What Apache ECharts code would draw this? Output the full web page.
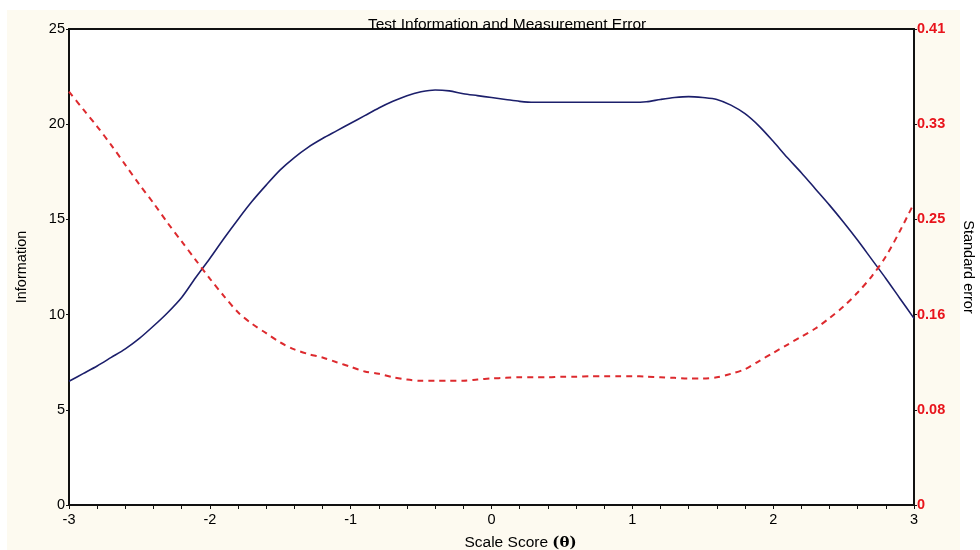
<!DOCTYPE html>
<html>
<head>
<meta charset="utf-8">
<script src="https://cdn.jsdelivr.net/npm/echarts@6/dist/echarts.min.js"></script>
<style>
  html, body { margin: 0; padding: 0; background: #fff; }
  .paper { position: absolute; left: 7px; top: 10px; width: 953px; height: 540px; background: #fdfaf0; }
  #chart { position: absolute; left: 0; top: 0; width: 980px; height: 550px; }
</style>
</head>
<body>
<div class="paper"></div>
<div id="chart"></div>
<script>
// scale score (theta), one point every 0.1
const theta = [-3.0, -2.9, -2.8, -2.7, -2.6, -2.5, -2.4, -2.3, -2.2, -2.1,
  -2.0, -1.9, -1.8, -1.7, -1.6, -1.5, -1.4, -1.3, -1.2, -1.1,
  -1.0, -0.9, -0.8, -0.7, -0.6, -0.5, -0.4, -0.3, -0.2, -0.1,
  0.0, 0.1, 0.2, 0.3, 0.4, 0.5, 0.6, 0.7, 0.8, 0.9,
  1.0, 1.1, 1.2, 1.3, 1.4, 1.5, 1.6, 1.7, 1.8, 1.9,
  2.0, 2.1, 2.2, 2.3, 2.4, 2.5, 2.6, 2.7, 2.8, 2.9, 3.0];
// test information
const information = [6.5, 6.9, 7.3, 7.75, 8.2, 8.75, 9.4, 10.1, 10.9, 11.95,
  12.95, 14.0, 15.0, 15.95, 16.8, 17.6, 18.25, 18.8, 19.25, 19.65,
  20.05, 20.45, 20.85, 21.2, 21.5, 21.7, 21.8, 21.75, 21.6, 21.5,
  21.4, 21.3, 21.2, 21.15, 21.15, 21.15, 21.15, 21.15, 21.15, 21.15,
  21.15, 21.18, 21.3, 21.4, 21.45, 21.4, 21.3, 21.0, 20.55, 19.9,
  19.1, 18.25, 17.45, 16.6, 15.75, 14.85, 13.9, 12.9, 11.9, 10.85, 9.8];
// standard error
const stdError = [0.356, 0.341, 0.326, 0.310, 0.293, 0.276, 0.260, 0.243, 0.227, 0.211,
  0.195, 0.180, 0.166, 0.156, 0.148, 0.140, 0.134, 0.130, 0.127, 0.123,
  0.119, 0.115, 0.113, 0.110, 0.108, 0.107, 0.107, 0.107, 0.107, 0.108,
  0.109, 0.1095, 0.110, 0.110, 0.110, 0.1105, 0.1105, 0.111, 0.111, 0.111,
  0.111, 0.1105, 0.110, 0.1095, 0.109, 0.109, 0.110, 0.113, 0.117, 0.124,
  0.131, 0.138, 0.145, 0.152, 0.161, 0.171, 0.183, 0.197, 0.214, 0.236, 0.26];

const font = "Arial, 'Liberation Sans', sans-serif";
const chart = echarts.init(document.getElementById("chart"));
chart.setOption({
  backgroundColor: "transparent",
  animation: false,
  title: {
    text: "Test Information and Measurement Error",
    left: 363,
    top: 12,
    textStyle: { fontFamily: font, fontSize: 15.5, fontWeight: "normal", color: "#000" },
  },
  grid: {
    left: 69,
    right: 66,
    top: 29,
    bottom: 45,
    outerBoundsMode: "none",
    containLabel: false,
    show: true,
    backgroundColor: "#fff",
    borderColor: "#111",
    borderWidth: 2,
  },
  xAxis: {
    type: "value",
    min: -3,
    max: 3,
    interval: 1,
    name: "{a|Scale Score }{t|(θ)}",
    nameLocation: "middle",
    nameGap: 30,
    nameTextStyle: {
      padding: [0, 0, 0, 58],
      rich: {
        a: { fontFamily: font, fontSize: 15.5, color: "#000" },
        t: { fontFamily: "'DejaVu Serif', serif", fontSize: 15, fontWeight: "bold", color: "#000" },
      },
    },
    axisLine: { onZero: false, lineStyle: { color: "#111", width: 2 } },
    axisTick: { inside: false, length: 4, lineStyle: { color: "#111" } },
    minorTick: { show: true, splitNumber: 5, length: 4, lineStyle: { color: "#111" } },
    axisLabel: { fontFamily: font, fontSize: 14.5, color: "#000", margin: 7 },
    splitLine: { show: false },
  },
  yAxis: [
    {
      type: "value",
      min: 0,
      max: 25,
      interval: 5,
      name: "Information",
      nameLocation: "middle",
      nameRotate: 90,
      nameGap: 40,
      nameTextStyle: { fontFamily: font, fontSize: 14.5, color: "#000" },
      axisLine: { show: true, onZero: false, lineStyle: { color: "#111", width: 2 } },
      axisTick: { show: true, length: 3, lineStyle: { color: "#111" } },
      axisLabel: { fontFamily: font, fontSize: 14.5, color: "#000", margin: 4 },
      splitLine: { show: false },
    },
    {
      type: "value",
      min: 0,
      max: 0.41,
      interval: 0.082,
      position: "right",
      name: "Standard error",
      nameLocation: "middle",
      nameRotate: -90,
      nameGap: 46,
      nameTextStyle: { fontFamily: font, fontSize: 14.5, color: "#000" },
      axisLine: { show: true, onZero: false, lineStyle: { color: "#111", width: 2 } },
      axisTick: { show: true, length: 3, lineStyle: { color: "#111" } },
      axisLabel: {
        fontFamily: font,
        fontSize: 14.5,
        fontWeight: "bold",
        color: "#e8141c",
        margin: 3,
        formatter: (v) => (v === 0 ? "0" : v.toFixed(2)),
      },
      splitLine: { show: false },
    },
  ],
  series: [
    {
      name: "Information",
      type: "line",
      yAxisIndex: 0,
      smooth: 0.3,
      showSymbol: false,
      data: theta.map((t, i) => [t, information[i]]),
      lineStyle: { color: "#1c1f6b", width: 1.6 },
    },
    {
      name: "Standard error",
      type: "line",
      yAxisIndex: 1,
      smooth: 0.3,
      showSymbol: false,
      data: theta.map((t, i) => [t, stdError[i]]),
      lineStyle: { color: "#dd2a2e", width: 2, type: [6, 5] },
    },
  ],
});
</script>
</body>
</html>
